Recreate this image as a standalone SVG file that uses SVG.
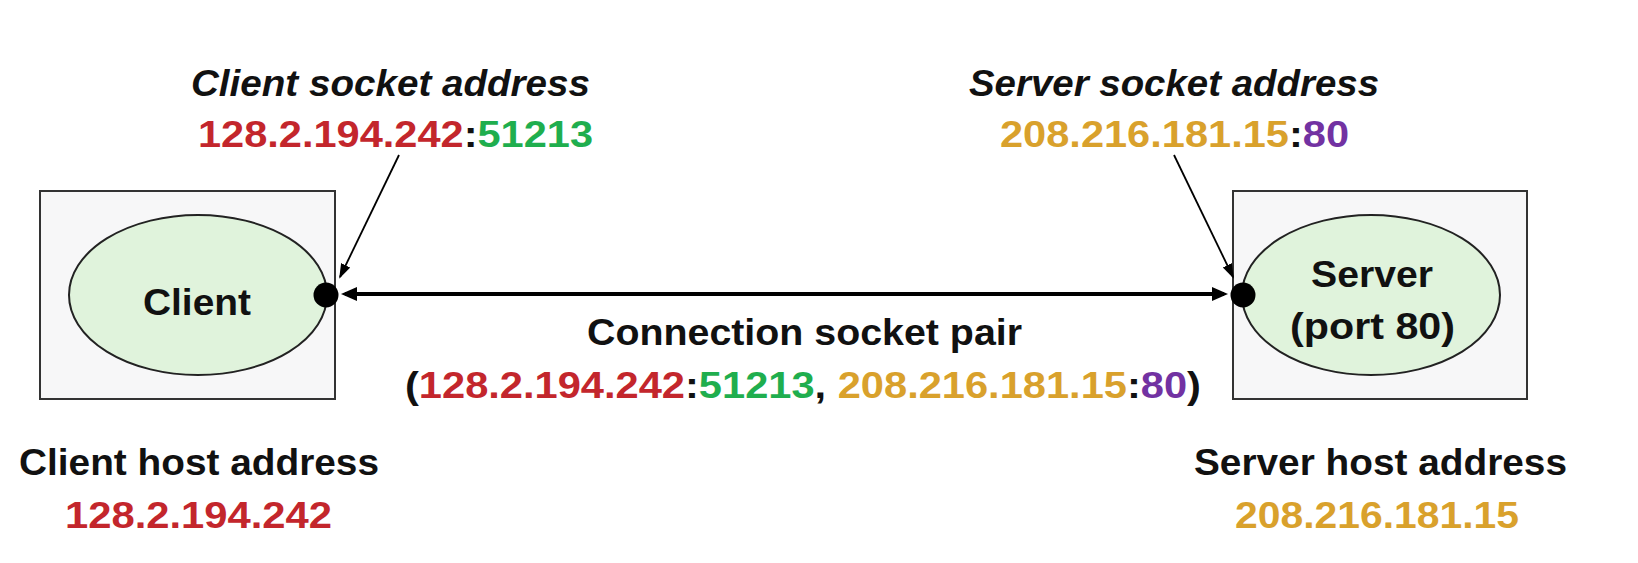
<svg xmlns="http://www.w3.org/2000/svg" width="1638" height="563" viewBox="0 0 1638 563">
<style>
text{font-family:"Liberation Sans",Arial,sans-serif;font-weight:bold;font-size:36px;fill:#111}
.it{font-style:italic}
.red{fill:#c3262c}.grn{fill:#1fae4e}.gld{fill:#d9a12c}.pur{fill:#7232a2}
.host{fill:#f7f7f8;stroke:#333;stroke-width:2}
.proc{fill:#e0f3dc;stroke:#222;stroke-width:2}
.dot{fill:#000}
.thick{stroke:#000;stroke-width:4;fill:none}
.thin{stroke:#000;stroke-width:1.8;fill:none}
</style>
<defs>
<marker id="big" markerUnits="userSpaceOnUse" markerWidth="18" markerHeight="16" refX="12" refY="7" orient="auto-start-reverse"><path d="M0,0 L16,7 L0,14 z" fill="#000"/></marker>
<marker id="small" markerUnits="userSpaceOnUse" markerWidth="16" markerHeight="12" refX="13" refY="5" orient="auto"><path d="M0,0 L15,5 L0,10 z" fill="#000"/></marker>
</defs>
<rect width="1638" height="563" fill="#fff"/>
<g id="client-host">
<rect class="host" x="40" y="191" width="295" height="208"/>
<text x="19" y="475" textLength="360" lengthAdjust="spacingAndGlyphs">Client host address</text>
<text class="red" x="65" y="528" textLength="267" lengthAdjust="spacingAndGlyphs">128.2.194.242</text>
</g>
<g id="client">
<ellipse class="proc" cx="198" cy="295" rx="129" ry="80"/>
<text x="143" y="315" textLength="108" lengthAdjust="spacingAndGlyphs">Client</text>
<circle class="dot" cx="326" cy="295" r="12.5"/>
</g>
<g id="client-socket">
<text class="it" x="191" y="96" textLength="399" lengthAdjust="spacingAndGlyphs">Client socket address</text>
<text x="198" y="147" textLength="395" lengthAdjust="spacingAndGlyphs"><tspan class="red">128.2.194.242</tspan>:<tspan class="grn">51213</tspan></text>
</g>
<g id="server-host">
<rect class="host" x="1233" y="191" width="294" height="208"/>
<text x="1194" y="475" textLength="373" lengthAdjust="spacingAndGlyphs">Server host address</text>
<text class="gld" x="1235" y="528" textLength="284" lengthAdjust="spacingAndGlyphs">208.216.181.15</text>
</g>
<g id="server">
<ellipse class="proc" cx="1371" cy="295" rx="129" ry="80"/>
<text x="1311" y="287" textLength="122" lengthAdjust="spacingAndGlyphs">Server</text>
<text x="1290" y="339" textLength="165" lengthAdjust="spacingAndGlyphs">(port 80)</text>
<circle class="dot" cx="1243" cy="295" r="12.5"/>
</g>
<g id="server-socket">
<text class="it" x="969" y="96" textLength="410" lengthAdjust="spacingAndGlyphs">Server socket address</text>
<text x="1000" y="147" textLength="349" lengthAdjust="spacingAndGlyphs"><tspan class="gld">208.216.181.15</tspan>:<tspan class="pur">80</tspan></text>
</g>
<g id="connection">
<text x="587" y="345" textLength="435" lengthAdjust="spacingAndGlyphs">Connection socket pair</text>
<text x="405" y="398" textLength="796" lengthAdjust="spacingAndGlyphs">(<tspan class="red">128.2.194.242</tspan>:<tspan class="grn">51213</tspan>, <tspan class="gld">208.216.181.15</tspan>:<tspan class="pur">80</tspan>)</text>
</g>
<g id="connectors">
<line class="thick" x1="345" y1="294" x2="1224" y2="294" marker-start="url(#big)" marker-end="url(#big)"/>
<line class="thin" x1="399" y1="155" x2="340" y2="277" marker-end="url(#small)"/>
<line class="thin" x1="1174" y1="155" x2="1233" y2="277" marker-end="url(#small)"/>
</g>
</svg>
